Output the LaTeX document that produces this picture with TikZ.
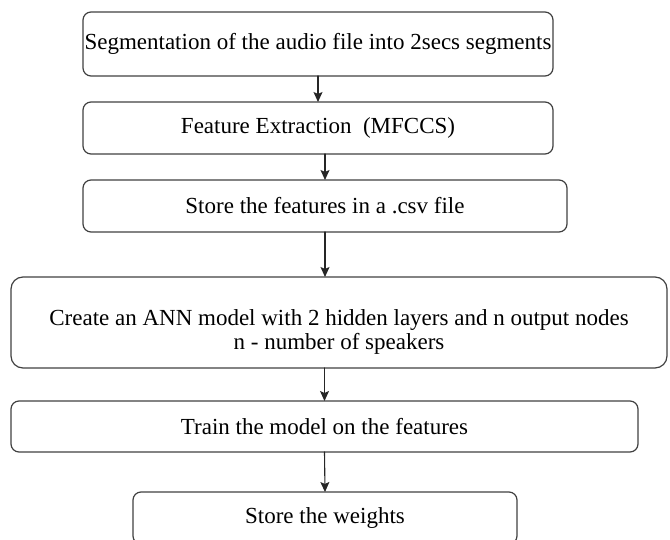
\documentclass[tikz,border=0pt]{standalone}
\usepackage{fontspec}
\setmainfont{Liberation Serif}
\usetikzlibrary{arrows.meta}
\definecolor{edge}{HTML}{404040}
\tikzset{
  every picture/.style={line join=round, line cap=round, >=Stealth},
  stepbox/.style={draw=edge, line width=1.2pt, rounded corners=8pt, inner sep=0pt, outer sep=0pt, align=center, font=\fontsize{23}{24}\selectfont},
  flow/.style={draw=black!85, line width=1.1pt, -{Stealth[length=10pt,width=9pt,inset=2pt]}},
}

\begin{document}
\begin{tikzpicture}[x=1pt,y=-1pt]
\useasboundingbox (0,0) rectangle (670,540);
\clip (0,0) rectangle (670,540);
\node[stepbox, minimum width=470pt, minimum height=64pt] (seg) at (318,44) {Segmentation of the audio file into 2secs segments};
\node[stepbox, minimum width=470pt, minimum height=52pt] (feat) at (318,128) {Feature Extraction~ (MFCCS)};
\node[stepbox, minimum width=484pt, minimum height=52pt] (store) at (325,206) {Store the features in a .csv file};
\node[stepbox, rounded corners=12pt, minimum width=656pt, minimum height=91pt] (ann) at (339,322.5) {\rule{0pt}{34pt}Create an ANN model with 2 hidden layers and n output nodes\\n - number of speakers};
\node[stepbox, minimum width=627pt, minimum height=51pt] (train) at (324.5,426.5) {Train the model on the features};
\node[stepbox, minimum width=384pt, minimum height=52pt] (weights) at (325,518) {Store the weights};
\draw[flow] (seg.south) -- (feat.north);
\draw[flow] (feat.south -| store.north) -- (store.north);
\draw[flow] (store.south) -- (store.south |- ann.north);
\draw[flow] (ann.south -| train.north) -- (train.north);
\draw[flow] (train.south) -- (weights.north);
\end{tikzpicture}
\end{document}
